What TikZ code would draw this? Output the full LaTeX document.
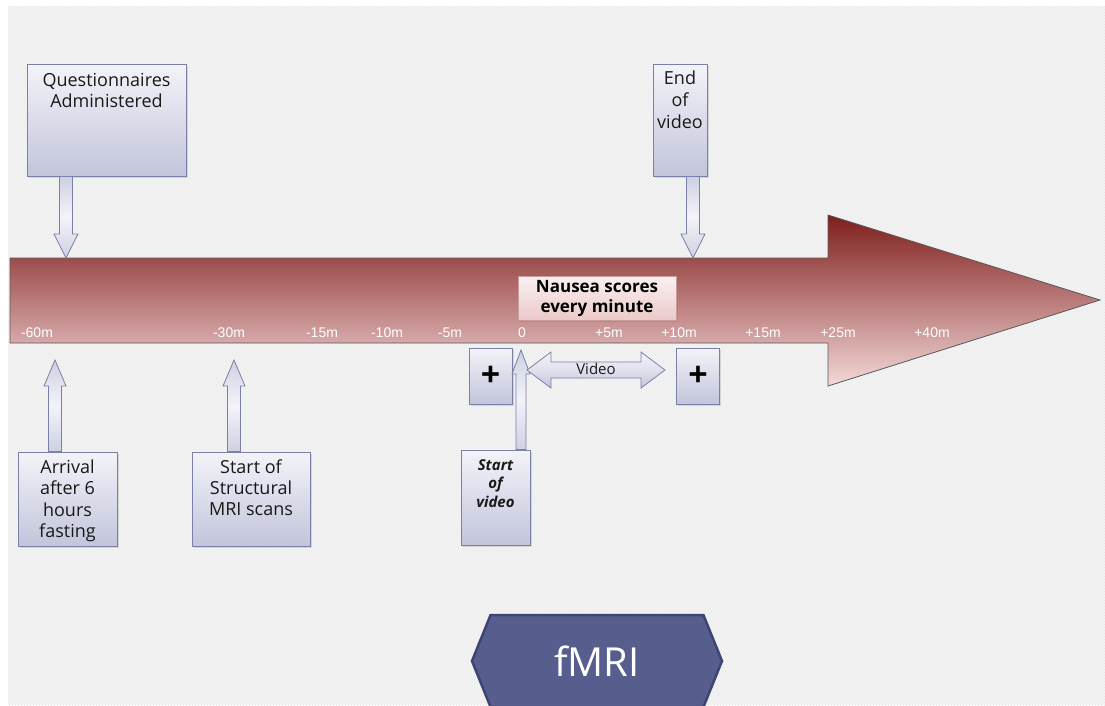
\documentclass[tikz,border=0pt]{standalone}
\usepackage{fontspec}
\setmainfont{Open Sans}
\newfontfamily\arialf{Liberation Sans}
\usetikzlibrary{calc,shadows,patterns,shapes.symbols}
\definecolor{bgc}{HTML}{F6F6F6}
\definecolor{bgl}{HTML}{E8E8E8}
\definecolor{boxtop}{HTML}{F3F3F9}
\definecolor{boxbot}{HTML}{C2C5DB}
\definecolor{boxline}{HTML}{7A80A8}
\definecolor{arrtop}{HTML}{7E1E1C}
\definecolor{arrbot}{HTML}{F4D8D8}
\definecolor{nztop}{HTML}{FBF0F0}
\definecolor{nzbot}{HTML}{EBCACA}
\definecolor{nzline}{HTML}{C99C9C}
\definecolor{fmrifill}{HTML}{575E8E}
\definecolor{fmriline}{HTML}{3E4474}
\tikzset{
  tbox/.style={draw=boxline, line width=0.8pt, top color=boxtop, bottom color=boxbot,
    inner sep=0pt, drop shadow={opacity=0.25, shadow xshift=1.5pt, shadow yshift=-2pt}},
  btext/.style={align=center, inner sep=0pt, font=\fontsize{18}{21}\selectfont, text=black!90},
  tick/.style={text=white, font=\arialf\fontsize{14}{15}\selectfont, inner sep=0pt},
  barrow/.style={draw=boxline, line width=0.8pt, left color=boxbot!80, right color=boxbot!80, middle color=boxtop, shading angle=0},
  plusbox/.style={tbox, minimum width=43pt, minimum height=56pt, font=\fontsize{34}{34}\selectfont\bfseries},
}
% block arrow: from, to, shaft half width, head half width, head length
\newcommand\blockarr[5]{%
  \path ($(#2)!#5!(#1)$) coordinate (bh);
  \path[barrow] ($(#1)!#3!90:(#2)$) -- ($(bh)!#3!90:(#2)$) -- ($(bh)!#4!90:(#2)$) -- (#2)
    -- ($(bh)!#4!-90:(#2)$) -- ($(bh)!#3!-90:(#2)$) -- ($(#1)!#3!-90:(#2)$) -- cycle;}
\newcommand\dblarr[5]{%
  \path ($(#2)!#5!(#1)$) coordinate (bh);
  \path ($(#1)!#5!(#2)$) coordinate (bt);
  \path[barrow, top color=boxtop, bottom color=boxbot, middle color=boxtop!60!boxbot]
    (#1) -- ($(bt)!#4!90:(#2)$) -- ($(bt)!#3!90:(#2)$) -- ($(bh)!#3!90:(#2)$) -- ($(bh)!#4!90:(#2)$) -- (#2)
    -- ($(bh)!#4!-90:(#2)$) -- ($(bh)!#3!-90:(#2)$) -- ($(bt)!#3!-90:(#2)$) -- ($(bt)!#4!-90:(#2)$) -- cycle;}
\begin{document}
\begin{tikzpicture}[x=1pt,y=-1pt]
\useasboundingbox (0,0) rectangle (1105,705);
\fill[white] (0,0) rectangle (1105,705);
\fill[bgc] (8,6) rectangle (1105,705);
\fill[pattern=north west lines, pattern color=bgl] (8,6) rectangle (1105,705);

% main time arrow
\draw[draw=black!65, line width=0.8pt, top color=arrtop, bottom color=arrbot]
  (10,258) -- (828,258) -- (828,215) -- (1100,300) -- (828,386) -- (828,343) -- (10,343) -- cycle;

% tick labels
\node[tick] (m60) at (37,333) {-60m};
\node[tick] (m30) at (229,333) {-30m};
\node[tick] (m15) at (322,333) {-15m};
\node[tick] (m10) at (387,333) {-10m};
\node[tick] (m5)  at (450,333) {-5m};
\node[tick] (z0)  at (522,333) {0};
\node[tick] (p5)  at (609,333) {+5m};
\node[tick] (p10) at (679,333) {+10m};
\node[tick] (p15) at (763,333) {+15m};
\node[tick] (p25) at (838,333) {+25m};
\node[tick] (p40) at (932,333) {+40m};

% nausea label
\node[draw=nzline, line width=0.8pt, top color=nztop, bottom color=nzbot, minimum width=158pt, minimum height=44pt,
  align=center, inner sep=0pt, font=\fontsize{17}{20}\selectfont\bfseries,
  drop shadow={opacity=0.3, shadow xshift=1.5pt, shadow yshift=-2pt}] (naus) at (597,298) {Nausea scores\\every minute};

% top boxes
\node[tbox, minimum width=159pt, minimum height=112pt] (q) at (106.5,120) {};
\node[btext, anchor=north] (qt) at (106.5,73) {Questionnaires\\Administered};
\node[tbox, minimum width=54pt, minimum height=112pt] (e) at (680,120) {};
\node[btext, anchor=north, font=\fontsize{18}{22}\selectfont] (et) at (680,71) {End\\of\\video};

% bottom boxes
\node[tbox, minimum width=99pt, minimum height=94pt] (arr) at (67.5,499) {};
\node[btext, font=\fontsize{18}{21.5}\selectfont] (arrt) at (67.5,501) {Arrival\\after 6\\hours\\fasting};
\node[tbox, minimum width=118pt, minimum height=94pt] (str) at (251,499) {};
\node[btext, anchor=north] (strt) at (251,460) {Start of\\Structural\\MRI scans};
\node[tbox, minimum width=69pt, minimum height=95pt] (sv) at (495.5,497.5) {};
\node[btext, anchor=north, font=\fontsize{15}{18.5}\selectfont\bfseries\itshape] (svt) at (495.5,459) {Start\\of\\video};

% plus boxes
\node[plusbox] (pl1) at (490.5,376) {+};
\node[plusbox] (pl2) at (698,376) {+};

% connectors
\coordinate (qtip) at (66,258);
\coordinate (etip) at (693,258);
\coordinate (atip) at (55,360);
\coordinate (stip) at (234,360);
\coordinate (vtip) at (521,350);
\blockarr{qtip |- q.south}{qtip}{6.5pt}{12pt}{24pt}
\blockarr{etip |- e.south}{etip}{6.5pt}{12pt}{24pt}
\blockarr{atip |- arr.north}{atip}{6.5pt}{11pt}{26pt}
\blockarr{stip |- str.north}{stip}{6.5pt}{11pt}{26pt}
\blockarr{vtip |- sv.north}{vtip}{5pt}{9pt}{24pt}

% video double arrow
\coordinate (vl) at (527,370);
\coordinate (vr) at (665,370);
\dblarr{vl}{vr}{8pt}{18pt}{24pt}
\node[inner sep=0pt, font=\fontsize{15}{15}\selectfont, text=black!90] (vid) at ($(vl)!0.5!(vr)+(0,-1)$) {Video};

% fMRI banner
\node[signal, signal to=west and east, signal pointer angle=136, draw=fmriline, line width=2.5pt, fill=fmrifill,
  minimum width=250pt, minimum height=92pt, inner sep=0pt, text=white, font=\fontsize{40}{40}\selectfont] (fmri) at (597,661) {fMRI};
\end{tikzpicture}
\end{document}
